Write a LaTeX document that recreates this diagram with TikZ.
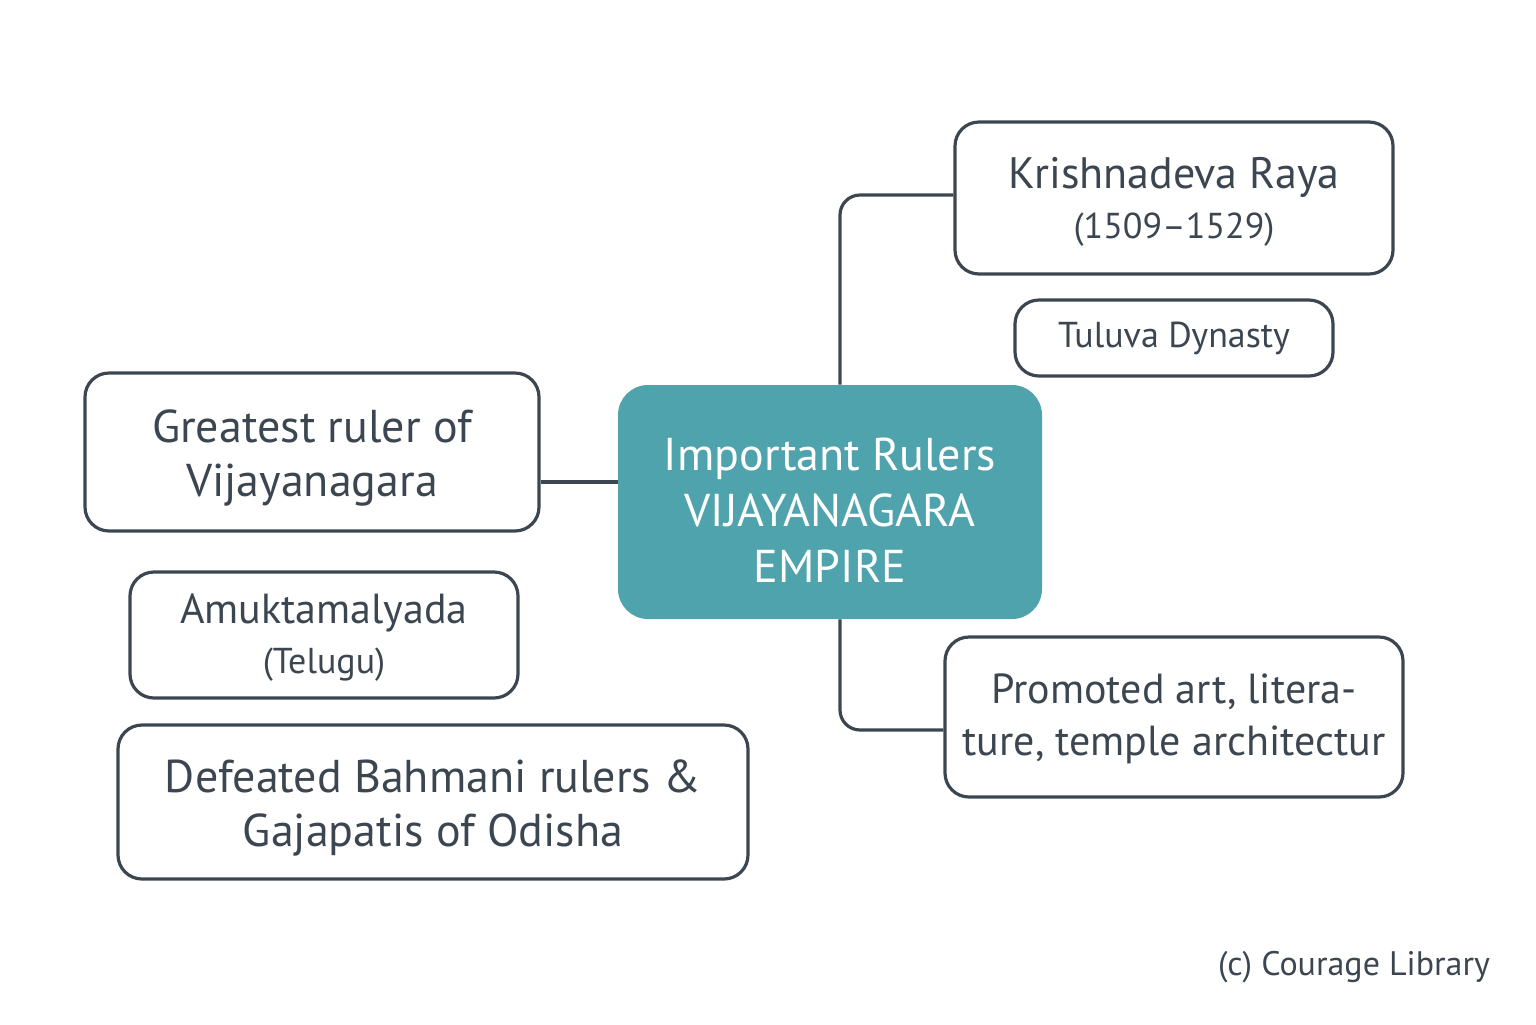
\documentclass[tikz,border=0pt]{standalone}
\usepackage{fontspec}
\setmainfont{PT Sans}
\definecolor{ink}{HTML}{3C4650}
\definecolor{teal}{HTML}{4FA3AD}
\begin{document}
\begin{tikzpicture}[x=0.5pt,y=-0.5pt,
  box/.style={draw=ink,line width=1.6pt,rounded corners=12pt,text=ink,align=center,inner sep=0pt},
  conn/.style={draw=ink,line width=1.6pt,rounded corners=10pt}]
\useasboundingbox (0,0) rectangle (1536,1024);
\node[box,minimum width=219pt,minimum height=76pt,font=\fontsize{22}{26}\selectfont] (kr) at (1174,198) {};
\node[text=ink,align=center,font=\fontsize{22}{26}\selectfont] (krt) at (1174,202) {Krishnadeva Raya\\[-1pt]{\fontsize{18}{22}\selectfont (1509–1529)}};
\node[box,minimum width=159pt,minimum height=38pt,font=\fontsize{18}{20}\selectfont] (tu) at (1174,338) {Tuluva Dynasty};
\node[draw=none,fill=teal,rounded corners=15pt,minimum width=212pt,minimum height=117pt,inner sep=0pt] (c) at (830,502) {};
\node[text=white,align=center,font=\fontsize{23}{28}\selectfont] (ct) at (830,510) {Important Rulers\\ VIJAYANAGARA\\ EMPIRE};
\node[box,minimum width=227pt,minimum height=79pt] (gr) at (312,452) {};
\node[text=ink,align=center,font=\fontsize{23}{27}\selectfont] (grt) at (312,458) {Greatest ruler of\\ Vijayanagara};
\node[box,minimum width=194pt,minimum height=63pt] (am) at (324,635) {};
\node[text=ink,align=center,font=\fontsize{21}{25}\selectfont] (amt) at (324,638) {Amuktamalyada\\ {\fontsize{18}{22}\selectfont (Telugu)}};
\node[box,minimum width=315pt,minimum height=77pt] (de) at (433,802) {};
\node[text=ink,align=center,font=\fontsize{23}{27}\selectfont] (det) at (433,808) {Defeated Bahmani rulers \&\\ Gajapatis of Odisha};
\node[box,minimum width=229pt,minimum height=80pt] (pr) at (1174,717) {};
\node[text=ink,align=center,font=\fontsize{21}{26}\selectfont] (prt) at (1174,719) {Promoted art, litera-\\ ture, temple architectur};
\node[text=ink,anchor=east,font=\fontsize{17}{20}\selectfont] (cp) at (1497,967) {(c) Courage Library};
\draw[conn] (gr.east |- 0,482) -- (c.west |- 0,482);
\draw[conn] (c.north -| 840,0) -- (840,195) -- (kr.west |- 0,195);
\draw[conn] (c.south -| 840,0) -- (840,730) -- (pr.west |- 0,730);
\end{tikzpicture}
\end{document}
